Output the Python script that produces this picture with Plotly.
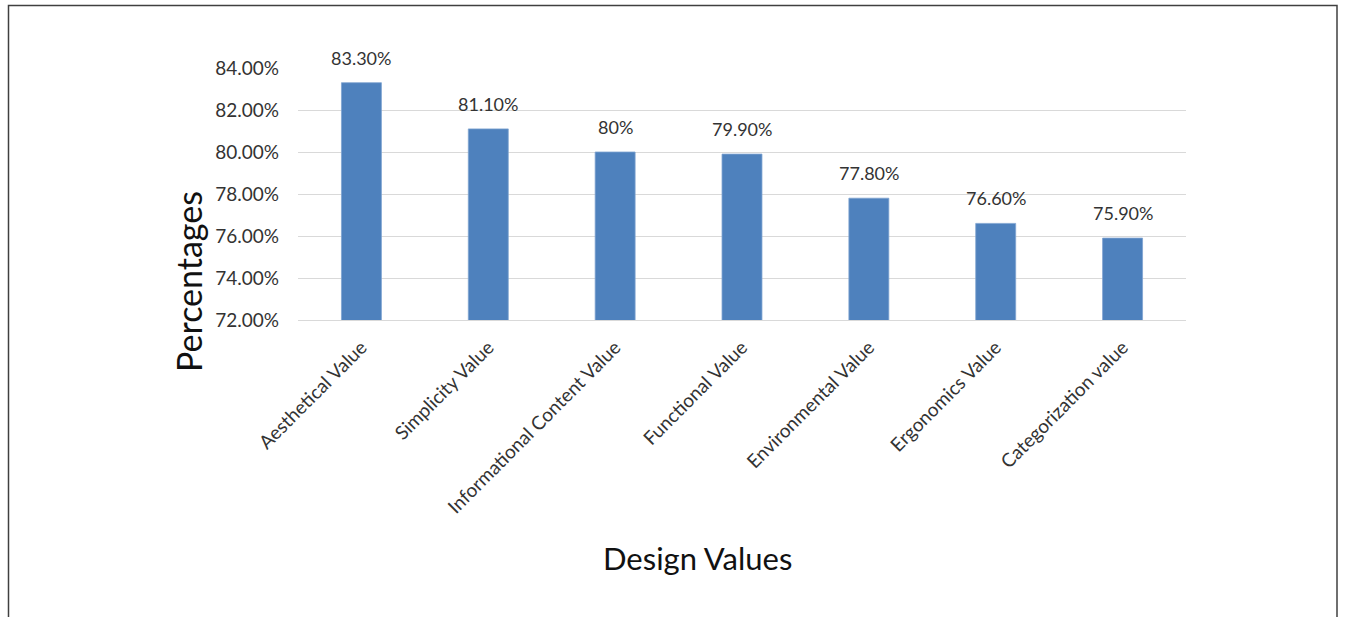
import plotly.graph_objects as go

categories = ["Aesthetical Value", "Simplicity Value", "Informational Content Value",
              "Functional Value", "Environmental Value", "Ergonomics Value",
              "Categorization value"]
values = [0.833, 0.811, 0.800, 0.799, 0.778, 0.766, 0.759]
labels = ["83.30%", "81.10%", "80%", "79.90%", "77.80%", "76.60%", "75.90%"]
y_ticks = [0.72, 0.74, 0.76, 0.78, 0.80, 0.82, 0.84]

FONT = "Lato, 'Open Sans', sans-serif"
TXT = "#333333"

fig = go.Figure(go.Bar(
    x=categories, y=values,
    marker=dict(color="#4E81BD", line=dict(color="#7FA3D1", width=0.8)),
))

L, R, T, B = 298, 159, 68, 297
W, H = 1345, 617
pw, ph = W - L - R, H - T - B

def px(x):
    return (x - L) / pw

def py(y):
    return (H - B - y) / ph

annotations = [
    dict(x=c, y=v, text=t, xref="x", yref="y", showarrow=False,
         yanchor="bottom", yshift=12, font=dict(size=18, color=TXT, family=FONT))
    for c, v, t in zip(categories, values, labels)
]
annotations += [
    dict(text="Percentages", xref="paper", yref="paper", x=px(188), y=py(282),
         showarrow=False, textangle=-90, font=dict(size=34, color="#111111", family=FONT),
         xanchor="center", yanchor="middle"),
    dict(text="Design Values", xref="paper", yref="paper", x=px(697), y=py(558),
         showarrow=False, font=dict(size=31, color="#111111", family=FONT),
         xanchor="center", yanchor="middle"),
]

fig.update_layout(
    width=W, height=H,
    margin=dict(l=L, r=R, t=T, b=B),
    paper_bgcolor="white", plot_bgcolor="white",
    bargap=0.685,
    showlegend=False,
    font=dict(family=FONT, color=TXT),
    xaxis=dict(tickangle=-45, tickfont=dict(size=19, color=TXT, family=FONT),
               showgrid=False, showline=True, linecolor="#D9D9D9", linewidth=1,
               ticks="", ticklabelstandoff=8, automargin=False),
    yaxis=dict(range=[0.72, 0.84], tickvals=y_ticks, tickformat=".2%",
               tickfont=dict(size=19, color=TXT, family=FONT),
               showgrid=True, gridcolor="#D9D9D9", gridwidth=1,
               zeroline=False, showline=False, ticks="",
               ticklabelstandoff=18, automargin=False),
    shapes=[dict(type="rect", xref="paper", yref="paper",
                 x0=px(8.5), x1=px(1337), y0=py(640), y1=py(5.5),
                 line=dict(color="#404040", width=1.5), fillcolor="rgba(0,0,0,0)",
                 layer="above")],
    annotations=annotations,
)

fig.write_html("out.html")
